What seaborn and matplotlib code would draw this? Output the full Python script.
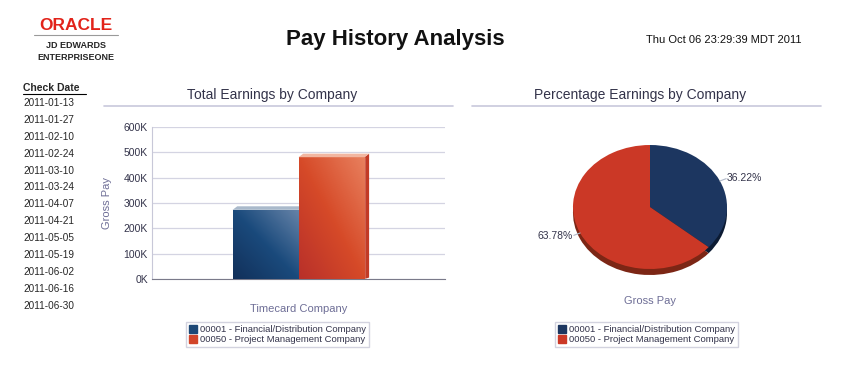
import numpy as np
import pandas as pd
import matplotlib
matplotlib.use("Agg")
import matplotlib.pyplot as plt
import seaborn as sns
from matplotlib.patches import Patch, Polygon
from matplotlib.colors import LinearSegmentedColormap
from matplotlib.ticker import FuncFormatter

# data
companies = ["00001 - Financial/Distribution Company", "00050 - Project Management Company"]
gross_pay = [273000, 480700]
group = "Timecard Company"
check_dates = ["2011-01-13", "2011-01-27", "2011-02-10", "2011-02-24", "2011-03-10",
               "2011-03-24", "2011-04-07", "2011-04-21", "2011-05-05", "2011-05-19",
               "2011-06-02", "2011-06-16", "2011-06-30"]
y_ticks = [0, 100000, 200000, 300000, 400000, 500000, 600000]

bar_colors = ["#1d4876", "#d2452a"]
pie_colors = ["#1c3660", "#cb3826"]
shadow_colors = ["#0c1b33", "#7c2615"]
grad_maps = [
    LinearSegmentedColormap.from_list("blue", ["#12305a", "#1a4a7c", "#6683a8"]),
    LinearSegmentedColormap.from_list("red", ["#b8302a", "#d64a28", "#e8805e"]),
]
top_colors = ["#a9b9cb", "#f2b6a0"]
side_colors = ["#233a5a", "#c23a26"]

txt = "#33334a"
lab = "#6e6e96"
rule = "#c8c8dc"

sns.set_style("white")
plt.rcParams["font.family"] = ["Liberation Sans", "DejaVu Sans"]

W, H = 847, 385
fig = plt.figure(figsize=(W / 100, H / 100), dpi=100)


def fx(px):
    return px / W


def fy(py):
    return 1 - py / H


# header
fig.text(fx(76), fy(25.5), "ORACLE", color="#e2231a", fontsize=12.5, fontweight="bold",
         ha="center", va="center")
fig.add_artist(plt.Line2D([fx(34), fx(118)], [fy(35), fy(35)], color="#9a9a9a", lw=0.8))
fig.text(fx(76), fy(45), "JD EDWARDS", fontsize=6.5, fontweight="bold", ha="center", va="center")
fig.text(fx(76), fy(57), "ENTERPRISEONE", fontsize=6.5, fontweight="bold", ha="center", va="center")
fig.text(fx(395), fy(40), "Pay History Analysis", fontsize=16, fontweight="bold",
         ha="center", va="center", color="#111111")
fig.text(fx(724), fy(40), "Thu Oct 06 23:29:39 MDT 2011", fontsize=8,
         ha="center", va="center", color="#111111")

# check date column
fig.text(fx(23), fy(88), "Check Date", fontsize=7.5, fontweight="bold", va="center")
fig.add_artist(plt.Line2D([fx(23), fx(86)], [fy(94), fy(94)], color="black", lw=0.8))
for i, d in enumerate(check_dates):
    fig.text(fx(23), fy(103 + 16.9 * i), d, fontsize=7.2, va="center")

# section titles and rules
fig.text(fx(272), fy(95), "Total Earnings by Company", fontsize=10, color=txt,
         ha="center", va="center")
fig.add_artist(plt.Line2D([fx(104), fx(453)], [fy(106), fy(106)], color=rule, lw=1.2))
fig.text(fx(640), fy(95), "Percentage Earnings by Company", fontsize=10, color=txt,
         ha="center", va="center")
fig.add_artist(plt.Line2D([fx(472), fx(821)], [fy(106), fy(106)], color=rule, lw=1.2))

# bar chart
ax = fig.add_axes([fx(152), fy(279), fx(445 - 152), (279 - 127) / H])
df = pd.DataFrame({"group": [group] * len(companies), "company": companies, "pay": gross_pay})
sns.barplot(data=df, x="group", y="pay", hue="company", palette=bar_colors,
            width=0.45, ax=ax, legend=False, zorder=3)
ax.set_xlim(-0.5, 0.5)
ax.set_ylim(0, 600000)
ax.set_yticks(y_ticks)
ax.yaxis.set_major_formatter(FuncFormatter(lambda v, p: f"{int(v / 1000)}K"))
ax.tick_params(axis="y", labelsize=7.5, labelcolor=txt, length=0, pad=3)
ax.set_xticks([])
ax.grid(axis="y", color="#d4d4e2", lw=0.9, zorder=0)
for s in ["top", "right"]:
    ax.spines[s].set_visible(False)
ax.spines["left"].set_color("#c8c8d8")
ax.spines["bottom"].set_color("#7a7a8a")
ax.set_xlabel("Timecard Company", fontsize=8, color=lab, labelpad=18)
ax.set_ylabel("Gross Pay", fontsize=8, color=lab, labelpad=8)

# gradient faces and a little 3D depth
dx, dy = 0.016, 14000
grad = np.linspace(0, 1, 64).reshape(1, -1) * 0.5 + np.linspace(1, 0, 64).reshape(-1, 1) * 0.5
for i, patch in enumerate(ax.patches[:len(companies)]):
    x0, w, h = patch.get_x(), patch.get_width(), patch.get_height()
    img = ax.imshow(grad, extent=[x0, x0 + w, 0, h], origin="upper", cmap=grad_maps[i],
                    aspect="auto", zorder=4)
    img.set_clip_path(patch)
    top = Polygon([[x0, h], [x0 + dx, h + dy], [x0 + w + dx, h + dy], [x0 + w, h]],
                  closed=True, color=top_colors[i], zorder=4, lw=0)
    side = Polygon([[x0 + w, 0], [x0 + w + dx, dy * 0.4], [x0 + w + dx, h + dy], [x0 + w, h]],
                   closed=True, color=side_colors[i], zorder=2.5, lw=0)
    ax.add_patch(top)
    ax.add_patch(side)
ax.set_xlim(-0.5, 0.5)
ax.set_ylim(0, 600000)

leg_kw = dict(loc="center", fontsize=6.8, frameon=True, fancybox=False, edgecolor="#c8c8d8",
              handlelength=0.9, handleheight=0.9, handletextpad=0.3, borderpad=0.3,
              labelspacing=0.05, borderaxespad=0)
leg1 = fig.legend(handles=[Patch(color=c, label=l) for c, l in zip(bar_colors, companies)],
                  bbox_to_anchor=(fx(277.5), fy(334.5)), **leg_kw)
for t in leg1.get_texts():
    t.set_color(txt)

# pie chart (flattened ellipse with a shadow underneath)
rx, ry = 77, 62
pax = fig.add_axes([fx(540), fy(287), fx(220), 160 / H])
pax.axis("off")
pax.pie(gross_pay, colors=shadow_colors, startangle=90, counterclock=False,
        center=(0, -6 / ry), radius=1, wedgeprops=dict(lw=0))
wedges, _ = pax.pie(gross_pay, colors=pie_colors, startangle=90, counterclock=False,
                    radius=1, wedgeprops=dict(lw=0))
pax.set_xlim(-110 / rx, 110 / rx)
pax.set_ylim(-80 / ry, 80 / ry)
pax.set_aspect("auto")
total = sum(gross_pay)
for w_, v in zip(wedges, gross_pay):
    ang = np.deg2rad((w_.theta1 + w_.theta2) / 2)
    cx, cy = np.cos(ang), np.sin(ang)
    pax.plot([cx * 1.0, cx * 1.09], [cy * 1.0, cy * 1.09], color="#b0b8c8", lw=0.8)
    pax.text(cx * 1.1, cy * 1.1, f"{v / total * 100:.2f}%", fontsize=7.5, color=txt,
             ha="left" if cx > 0 else "right", va="center")
fig.text(fx(650), fy(301), "Gross Pay", fontsize=8, color=lab, ha="center", va="center")

leg2 = fig.legend(handles=[Patch(color=c, label=l) for c, l in zip(pie_colors, companies)],
                  bbox_to_anchor=(fx(646.5), fy(334.5)), **leg_kw)
for t in leg2.get_texts():
    t.set_color(txt)

fig.savefig("out.png", dpi=100)
